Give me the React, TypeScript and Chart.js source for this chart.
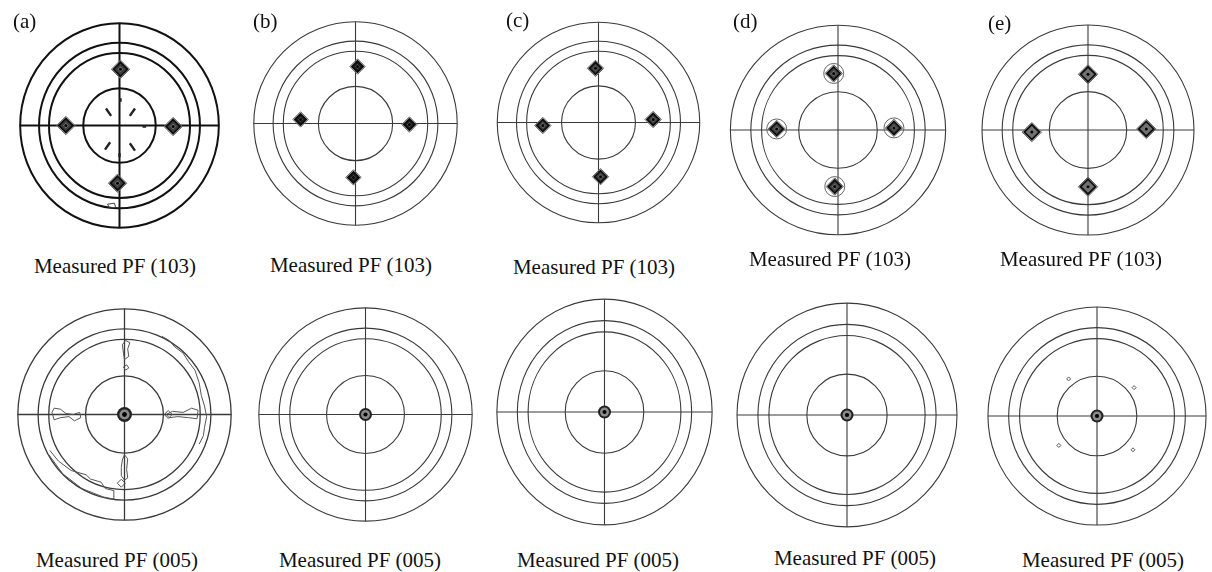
import { useEffect, useRef } from "react";
import { Chart, registerables } from "chart.js";

Chart.register(...registerables);

// Sample labels and captions
const PANEL_LETTERS = ["(a)", "(b)", "(c)", "(d)", "(e)"];
const CAPTION_103 = "Measured PF (103)";
const CAPTION_005 = "Measured PF (005)";

// Reference rings of the stereographic net, as a fraction of the outer radius
const RING_RADII = [1, 0.81, 0.71, 0.365];

// (103) pole maxima for each sample, [x, y] in net units (outer ring = 1)
const POLES_103_A = [[0.01, 0.55], [-0.54, 0.0], [0.54, -0.01], [-0.02, -0.565]];
const POLES_103_B = [[0.02, 0.56], [-0.54, 0.04], [0.53, -0.01], [-0.02, -0.53]];
const POLES_103_C = [[-0.03, 0.54], [-0.55, -0.03], [0.54, 0.03], [0.02, -0.54]];
const POLES_103_D = [[-0.04, 0.54], [-0.57, 0.01], [0.52, 0.02], [-0.03, -0.54]];
const POLES_103_E = [[0.0, 0.53], [-0.53, -0.02], [0.55, 0.01], [0.0, -0.54]];

// (005) maximum sits at the net centre for every sample
const POLE_005 = [[0, 0]];

// Weak (103) intensity streaks inside the inner ring of sample (a): [x, y, angle°]
const STREAKS_103_A = [
  [-0.11, 0.13, 55], [0.13, 0.13, -55], [-0.12, -0.2, -55], [0.13, -0.21, 55],
  [0.01, 0.25, 90], [0.25, -0.01, 0], [0.0, -0.29, 90],
];
// Small stray contour of sample (a), (103)
const CONTOUR_103_A = [[-0.12, -0.77], [-0.05, -0.76], [-0.04, -0.8], [-0.1, -0.81], [-0.12, -0.77]];

// Low-level (005) contours of sample (a)
const CONTOUR_005_A_TOP = [[0.0, 0.52], [0.04, 0.55], [0.03, 0.62], [0.05, 0.68], [0.01, 0.7], [-0.02, 0.66], [-0.01, 0.58], [0.0, 0.52]];
const CONTOUR_005_A_TOP2 = [[0.01, 0.42], [0.04, 0.44], [0.02, 0.47], [-0.01, 0.45], [0.01, 0.42]];
const CONTOUR_005_A_LEFT = [[-0.68, 0.02], [-0.66, 0.06], [-0.6, 0.05], [-0.55, 0.01], [-0.48, 0.0], [-0.42, 0.02], [-0.41, -0.03], [-0.47, -0.06], [-0.52, -0.02], [-0.6, -0.03], [-0.66, -0.05], [-0.68, 0.02]];
const CONTOUR_005_A_RIGHT = [[0.39, 0.0], [0.45, 0.03], [0.55, 0.02], [0.63, 0.06], [0.69, 0.04], [0.68, -0.04], [0.6, -0.03], [0.5, -0.02], [0.42, -0.03], [0.39, 0.0]];
const CONTOUR_005_A_BOTTOM = [[0.0, -0.38], [0.03, -0.42], [0.02, -0.52], [0.03, -0.6], [0.0, -0.62], [-0.03, -0.58], [-0.03, -0.5], [-0.02, -0.43], [0.0, -0.38]];
const CONTOUR_005_A_ARC_R = [[0.35, 0.74], [0.42, 0.7], [0.47, 0.64], [0.55, 0.58], [0.6, 0.5], [0.66, 0.42], [0.7, 0.3], [0.72, 0.18], [0.75, 0.08], [0.77, -0.02], [0.75, -0.12], [0.74, -0.2], [0.7, -0.28]];
const CONTOUR_005_A_ARC_L = [[-0.71, -0.38], [-0.58, -0.56], [-0.4, -0.7], [-0.2, -0.78], [-0.1, -0.8], [-0.1, -0.72], [-0.18, -0.7], [-0.22, -0.64], [-0.32, -0.61], [-0.36, -0.57], [-0.5, -0.53], [-0.62, -0.44], [-0.7, -0.34]];
const SPOTS_005_A = [[0.41, 0.0], [-0.03, -0.65]];
// Faint (005) spots of sample (e)
const SPOTS_005_E = [[-0.26, 0.34], [0.34, 0.26], [-0.35, -0.27], [0.33, -0.31]];

// ---- layout: net centres and radii in page pixels ----
type Frame = { cx: number; cy: number; rx: number; ry: number };
const FRAMES_TOP: Frame[] = [
  { cx: 119, cy: 125, rx: 109, ry: 112 },
  { cx: 355, cy: 123, rx: 110, ry: 110 },
  { cx: 598, cy: 122, rx: 110, ry: 109 },
  { cx: 838, cy: 130, rx: 118, ry: 115 },
  { cx: 1088, cy: 130, rx: 116, ry: 115 },
];
const FRAMES_BOTTOM: Frame[] = [
  { cx: 124, cy: 414, rx: 114, ry: 113 },
  { cx: 365, cy: 414, rx: 113, ry: 113 },
  { cx: 604, cy: 412, rx: 114, ry: 119 },
  { cx: 847, cy: 415, rx: 116, ry: 118 },
  { cx: 1097, cy: 416, rx: 115, ry: 115 },
];
const LETTER_POS = [[13, 21], [253, 21], [506, 20], [733, 21], [988, 23]];
const CAPTION_TOP_POS = [[115, 266], [351, 265], [594, 267], [830, 259], [1081, 259]];
const CAPTION_BOTTOM_POS = [[117, 560], [360, 560], [598, 560], [855, 558], [1103, 560]];

const POLE_SIZE_103 = [7, 5.5, 6, 6.5, 7.5];
const POLE_FILL_103 = ["#3c3c3c", "#1e1e1e", "#404040", "#444", "#707070"];

const SPAN = 1.05;
const SERIF = "'Liberation Serif', 'DejaVu Serif', serif";

const toXY = (pts: number[][]) => pts.map(([x, y]) => ({ x, y }));

const ringPlugin = {
  id: "pfRings",
  beforeDatasetsDraw(chart: any, _args: any, opts: any) {
    const { ctx } = chart;
    const xs = chart.scales.x;
    const ys = chart.scales.y;
    const x0 = xs.getPixelForValue(0);
    const y0 = ys.getPixelForValue(0);
    ctx.save();
    ctx.strokeStyle = opts.color;
    ctx.lineWidth = opts.width;
    for (const r of opts.radii as number[]) {
      const rx = Math.abs(xs.getPixelForValue(r) - x0);
      const ry = Math.abs(ys.getPixelForValue(r) - y0);
      ctx.beginPath();
      ctx.ellipse(x0, y0, rx, ry, 0, 0, Math.PI * 2);
      ctx.stroke();
    }
    ctx.restore();
  },
};

function lineSet(pts: number[][], color: string, width: number) {
  return {
    data: toXY(pts),
    showLine: true,
    pointRadius: 0,
    borderColor: color,
    borderWidth: width,
    tension: 0,
    fill: false,
  };
}

function crossSets(color: string, width: number) {
  return [
    lineSet([[-1, 0], [1, 0]], color, width),
    lineSet([[0, -1], [0, 1]], color, width),
  ];
}

function poleLayers103(pts: number[][], size: number, fill: string) {
  const data = toXY(pts);
  return [
    { data, pointStyle: "rectRot", pointRadius: size + 2.2, pointBackgroundColor: "rgba(150,150,150,0.45)", pointBorderColor: "#666", pointBorderWidth: 1 },
    { data, pointStyle: "rectRot", pointRadius: size, pointBackgroundColor: fill, pointBorderColor: "#0d0d0d", pointBorderWidth: 1.8 },
    { data, pointStyle: "rectRot", pointRadius: size * 0.4, pointBackgroundColor: "#7a7a7a", pointBorderWidth: 0 },
    { data, pointStyle: "circle", pointRadius: 1.5, pointBackgroundColor: "#000", pointBorderWidth: 0 },
  ];
}

function poleLayers005(pts: number[][], size: number) {
  const data = toXY(pts);
  return [
    { data, pointStyle: "circle", pointRadius: size, pointBackgroundColor: "#222", pointBorderWidth: 0 },
    { data, pointStyle: "circle", pointRadius: size * 0.68, pointBackgroundColor: "#8c8c8c", pointBorderWidth: 0 },
    { data, pointStyle: "circle", pointRadius: size * 0.32, pointBackgroundColor: "#000", pointBorderWidth: 0 },
  ];
}

type Panel = { frame: Frame; datasets: any[]; ringColor: string; ringWidth: number };

function buildPanels(): Panel[] {
  const panels: Panel[] = [];
  const poles103 = [POLES_103_A, POLES_103_B, POLES_103_C, POLES_103_D, POLES_103_E];
  poles103.forEach((pts, i) => {
    const heavy = i === 0;
    const color = heavy ? "#111" : "#3a3a3a";
    const width = heavy ? 2 : 1.1;
    const sets: any[] = [...crossSets(color, width)];
    if (i === 0) {
      sets.push(lineSet(CONTOUR_103_A, "#444", 1));
      sets.push({
        data: STREAKS_103_A.map(([x, y]) => ({ x, y })),
        pointStyle: "line",
        pointRadius: STREAKS_103_A.map((_, k) => (k < 4 ? 4.5 : 1.8)),
        rotation: STREAKS_103_A.map((s) => s[2]),
        pointBorderColor: "#222",
        pointBorderWidth: 2.4,
      });
    }
    if (i === 3) {
      sets.push({
        data: toXY(pts),
        pointStyle: "circle",
        pointRadius: 10,
        pointBackgroundColor: "rgba(255,255,255,0)",
        pointBorderColor: "#666",
        pointBorderWidth: 1,
      });
    }
    sets.push(...poleLayers103(pts, POLE_SIZE_103[i], POLE_FILL_103[i]));
    panels.push({ frame: FRAMES_TOP[i], datasets: sets, ringColor: color, ringWidth: width });
  });

  for (let i = 0; i < 5; i++) {
    const color = "#3a3a3a";
    const width = i === 0 ? 1.3 : 1.1;
    const sets: any[] = [...crossSets(color, width)];
    if (i === 0) {
      [CONTOUR_005_A_TOP, CONTOUR_005_A_TOP2, CONTOUR_005_A_LEFT, CONTOUR_005_A_RIGHT,
        CONTOUR_005_A_BOTTOM, CONTOUR_005_A_ARC_R, CONTOUR_005_A_ARC_L].forEach((c) =>
        sets.push(lineSet(c, "#555", 1))
      );
      sets.push({
        data: toXY(SPOTS_005_A),
        pointStyle: "rectRot",
        pointRadius: 4,
        pointBackgroundColor: "rgba(255,255,255,0)",
        pointBorderColor: "#555",
        pointBorderWidth: 1,
      });
    }
    if (i === 4) {
      sets.push({
        data: toXY(SPOTS_005_E),
        pointStyle: "rectRot",
        pointRadius: 2,
        pointBackgroundColor: "rgba(255,255,255,0)",
        pointBorderColor: "#555",
        pointBorderWidth: 1,
      });
    }
    sets.push(...poleLayers005(POLE_005, i === 0 ? 7.5 : 6.5));
    panels.push({ frame: FRAMES_BOTTOM[i], datasets: sets, ringColor: color, ringWidth: width });
  }
  return panels;
}

function PoleFigure({ panel }: { panel: Panel }) {
  const ref = useRef<HTMLCanvasElement>(null);
  const { frame } = panel;
  const w = Math.round(2 * frame.rx * SPAN);
  const h = Math.round(2 * frame.ry * SPAN);

  useEffect(() => {
    if (!ref.current) return;
    const n = panel.datasets.length;
    // first entry is painted first (bottom), so give it the highest order
    const datasets = panel.datasets.map((d, i) => ({ ...d, order: n - i }));
    const chart = new Chart(ref.current, {
      type: "scatter",
      data: { datasets },
      options: {
        animation: false,
        responsive: false,
        events: [],
        layout: { padding: 0 },
        scales: {
          x: { type: "linear", min: -SPAN, max: SPAN, display: false },
          y: { type: "linear", min: -SPAN, max: SPAN, display: false },
        },
        plugins: {
          legend: { display: false },
          tooltip: { enabled: false },
          pfRings: { radii: RING_RADII, color: panel.ringColor, width: panel.ringWidth },
        } as any,
      },
      plugins: [ringPlugin as any],
    });
    return () => chart.destroy();
  }, []);

  return (
    <canvas
      ref={ref}
      width={w}
      height={h}
      style={{
        position: "absolute",
        left: frame.cx - w / 2,
        top: frame.cy - h / 2,
        width: w,
        height: h,
      }}
    />
  );
}

function Label({ text, x, y, center }: { text: string; x: number; y: number; center?: boolean }) {
  return (
    <div
      style={{
        position: "absolute",
        left: x,
        top: y,
        transform: center ? "translate(-50%, -50%)" : "translate(0, -50%)",
        fontFamily: SERIF,
        fontSize: 21,
        lineHeight: "24px",
        color: "#111",
        whiteSpace: "nowrap",
      }}
    >
      {text}
    </div>
  );
}

export default function App() {
  const panels = buildPanels();
  return (
    <div
      style={{
        position: "fixed",
        left: 0,
        top: 0,
        width: 1212,
        height: 572,
        background: "#fff",
        overflow: "hidden",
      }}
    >
      {panels.map((p, i) => (
        <PoleFigure key={i} panel={p} />
      ))}
      {PANEL_LETTERS.map((t, i) => (
        <Label key={"l" + i} text={t} x={LETTER_POS[i][0]} y={LETTER_POS[i][1]} />
      ))}
      {CAPTION_TOP_POS.map(([x, y], i) => (
        <Label key={"t" + i} text={CAPTION_103} x={x} y={y} center />
      ))}
      {CAPTION_BOTTOM_POS.map(([x, y], i) => (
        <Label key={"b" + i} text={CAPTION_005} x={x} y={y} center />
      ))}
    </div>
  );
}
